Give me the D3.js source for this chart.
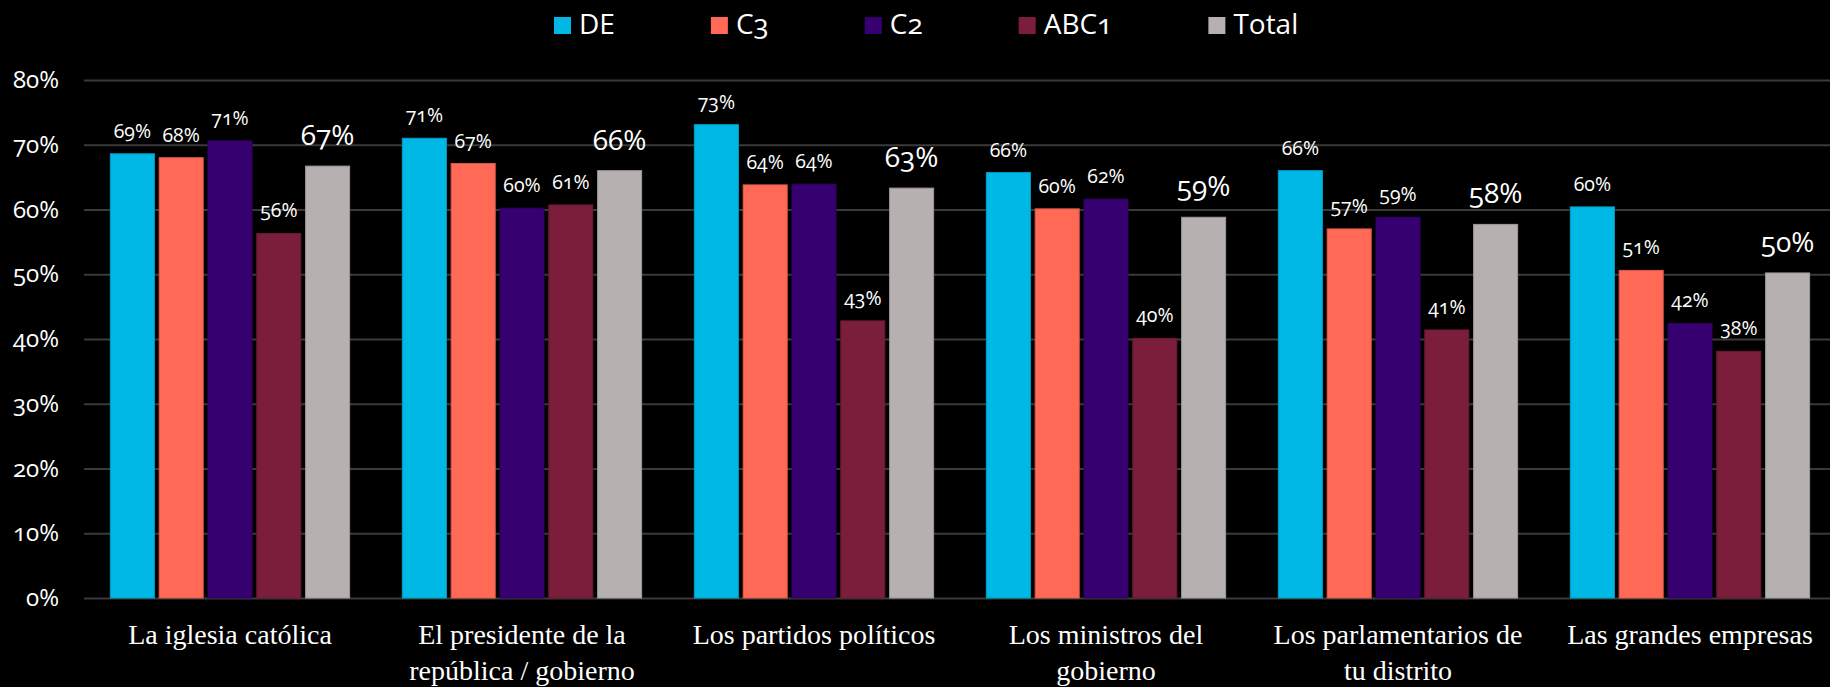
<!DOCTYPE html>
<html>
<head>
<meta charset="utf-8">
<script src="https://cdn.jsdelivr.net/npm/d3@7"></script>
<style>
  html, body { margin: 0; padding: 0; background: #000; }
  svg { display: block; }
  .num { font-family: "Open Sans", sans-serif; font-variant-numeric: oldstyle-nums; fill: #fff; }
  .cat { font-family: "Liberation Serif", serif; fill: #fff; }
</style>
</head>
<body>
<div id="chart"></div>
<script>
var categories = [
  ["La iglesia católica"],
  ["El presidente de la", "república / gobierno"],
  ["Los partidos políticos"],
  ["Los ministros del", "gobierno"],
  ["Los parlamentarios de", "tu distrito"],
  ["Las grandes empresas"]
];
var series = ["DE", "C3", "C2", "ABC1", "Total"];
var colors = ["#00b8e6", "#ff6955", "#370070", "#7a1e3c", "#b6b0b0"];

var DE    = [0.686, 0.710, 0.731, 0.657, 0.660, 0.604];
var C3    = [0.680, 0.671, 0.638, 0.601, 0.570, 0.506];
var C2    = [0.706, 0.602, 0.639, 0.616, 0.588, 0.424];
var ABC1  = [0.563, 0.607, 0.428, 0.401, 0.414, 0.381];
var Total = [0.667, 0.660, 0.633, 0.588, 0.577, 0.502];
var values = [DE, C3, C2, ABC1, Total];

var yTicks = [0, 0.1, 0.2, 0.3, 0.4, 0.5, 0.6, 0.7, 0.8];

var width = 1830, height = 687;
var plotLeft = 84, plotTop = 80, plotBottom = 598;

var svg = d3.select("#chart").append("svg")
  .attr("width", width)
  .attr("height", height);

var catKeys = categories.map(function(c) { return c.join(" "); });

var x0 = d3.scaleBand()
  .domain(catKeys)
  .range([plotLeft, plotLeft + 292 * 6])
  .padding(0);

var x1 = d3.scaleBand()
  .domain(series)
  .range([0, x0.bandwidth()])
  .paddingInner(0.098)
  .paddingOuter(0.54);

var y = d3.scaleLinear()
  .domain([0, 0.8])
  .range([plotBottom, plotTop]);

var fmt = d3.format(".0%");

// gridlines + y labels
var yAxis = d3.axisLeft(y)
  .tickValues(yTicks)
  .tickFormat(fmt)
  .tickSize(-(width - plotLeft))
  .tickPadding(25);

var ya = svg.append("g")
  .attr("transform", "translate(" + plotLeft + ",0)")
  .call(yAxis);
ya.select(".domain").remove();
ya.selectAll(".tick line")
  .attr("stroke", "#3a3a3a")
  .attr("stroke-width", 2);
ya.selectAll(".tick text")
  .attr("class", "num")
  .style("font-size", "24px")
  .attr("fill", "#fff");

// bars
var groups = svg.append("g").selectAll("g")
  .data(catKeys)
  .enter().append("g")
  .attr("transform", function(d) { return "translate(" + x0(d) + ",0)"; });

function rows(d, i) {
  return series.map(function(s, j) { return {s: s, j: j, v: values[j][i]}; });
}

groups.selectAll("rect")
  .data(rows)
  .enter().append("rect")
  .attr("x", function(d) { return x1(d.s); })
  .attr("y", function(d) { return y(d.v); })
  .attr("width", x1.bandwidth())
  .attr("height", function(d) { return y(0) - y(d.v); })
  .attr("fill", function(d) { return colors[d.j]; })
  .attr("stroke", function(d) { return d3.color(colors[d.j]).darker(0.4); })
  .attr("stroke-width", 1);

groups.selectAll("text.val")
  .data(rows)
  .enter().append("text")
  .attr("class", "val num")
  .attr("text-anchor", "middle")
  .attr("x", function(d) { return x1(d.s) + x1.bandwidth() / 2; })
  .attr("y", function(d) { return y(d.v) - (d.s == "Total" ? 21 : 16); })
  .style("font-size", function(d) { return d.s == "Total" ? "28px" : "19.5px"; })
  .text(function(d) { return fmt(d.v); });

// category labels
groups.each(function(d, i) {
  var t = d3.select(this).append("text")
    .attr("class", "cat")
    .attr("text-anchor", "middle")
    .style("font-size", "28px");
  categories[i].forEach(function(line, k) {
    t.append("tspan")
      .attr("x", x0.bandwidth() / 2)
      .attr("y", 644 + k * 36)
      .text(line);
  });
});

// legend
var legend = svg.append("g");
var lx = 554;
series.forEach(function(s, j) {
  var g = legend.append("g").attr("transform", "translate(" + lx + ",0)");
  g.append("rect")
    .attr("x", 0).attr("y", 17)
    .attr("width", 17).attr("height", 17)
    .attr("fill", colors[j]);
  var t = g.append("text")
    .attr("class", "num")
    .attr("x", 25)
    .attr("y", 34)
    .style("font-size", "28px")
    .text(s);
  lx += 25 + t.node().getComputedTextLength() + 96;
});
</script>
</body>
</html>
